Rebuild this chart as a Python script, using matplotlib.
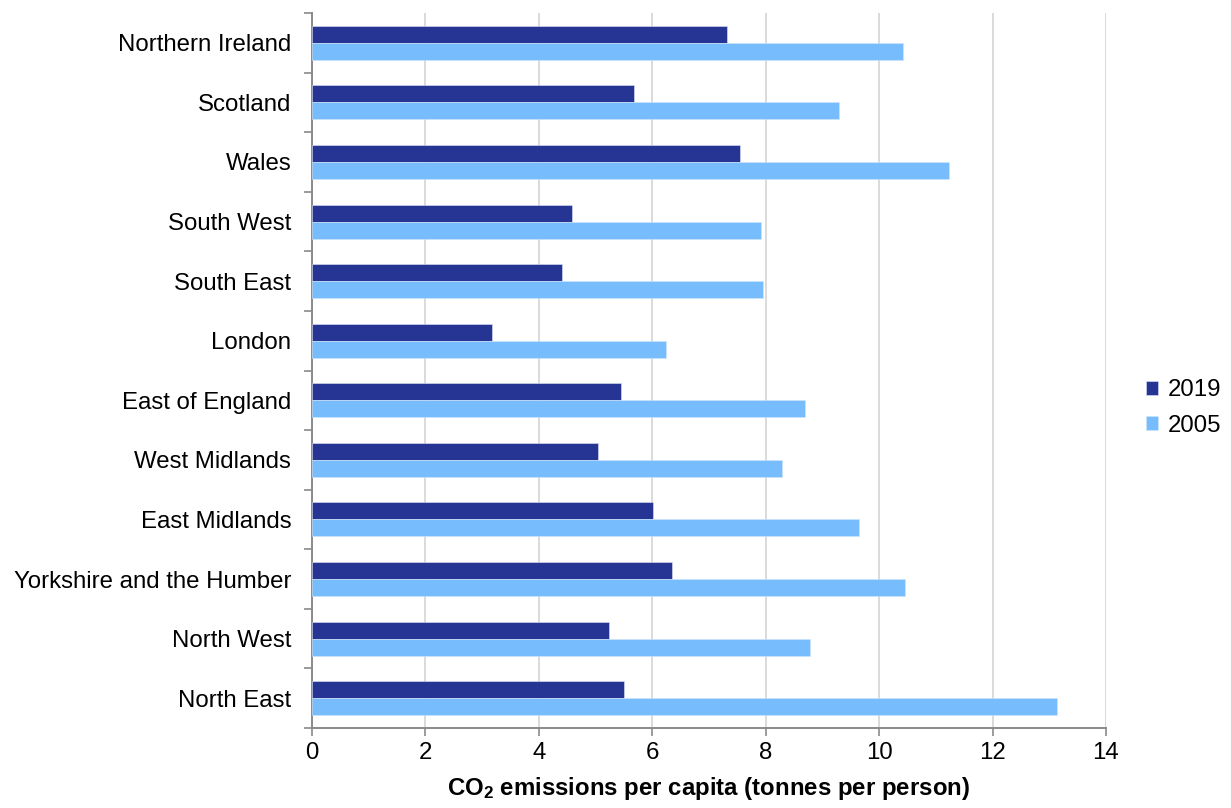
import numpy as np
import matplotlib
matplotlib.use("Agg")
import matplotlib.pyplot as plt
from matplotlib.ticker import FixedLocator

plt.rcParams['font.family'] = ['Liberation Sans', 'DejaVu Sans']
plt.rcParams['mathtext.fontset'] = 'custom'
plt.rcParams['mathtext.rm'] = 'Liberation Sans'
plt.rcParams['mathtext.bf'] = 'Liberation Sans:bold'

# regions, top to bottom
regions = ['Northern Ireland', 'Scotland', 'Wales', 'South West', 'South East',
           'London', 'East of England', 'West Midlands', 'East Midlands',
           'Yorkshire and the Humber', 'North West', 'North East']
co2_2019 = [7.32, 5.68, 7.54, 4.59, 4.40, 3.17, 5.44, 5.05, 6.01, 6.35, 5.23, 5.51]
co2_2005 = [10.42, 9.30, 11.23, 7.91, 7.95, 6.24, 8.70, 8.28, 9.64, 10.46, 8.78, 13.13]
xticks = [0, 2, 4, 6, 8, 10, 12, 14]

dark = '#263593'
light = '#77bcfc'
fs = 17.3

fig = plt.figure(figsize=(12.31, 8.08), dpi=100)
ax = fig.add_axes([312 / 1231, 1 - 728 / 808, (1106 - 312) / 1231, (728 - 13) / 808])

n = len(regions)
y = np.arange(n)[::-1]
h = 0.285
ax.barh(y + h / 2, co2_2019, height=h, color=dark, edgecolor='#dfe3f2', linewidth=0.4,
        label='2019', zorder=3)
ax.barh(y - h / 2, co2_2005, height=h, color=light, edgecolor='#cfe6fd', linewidth=0.4,
        label='2005', zorder=3)

ax.set_xlim(0, 14)
ax.set_ylim(-0.5, n - 0.5)
ax.set_xticks(xticks)
ax.set_xticklabels([str(t) for t in xticks])
ax.set_yticks(y)
ax.set_yticklabels(regions)
ax.yaxis.set_minor_locator(FixedLocator(np.arange(-0.5, n, 1)))

ax.tick_params(axis='y', which='major', length=0, pad=15, labelsize=fs)
ax.tick_params(axis='y', which='minor', length=6, width=1.2, color='#8a8a8a', direction='out')
ax.tick_params(axis='x', which='major', length=6, width=1.2, color='#8a8a8a', direction='out',
               labelsize=fs, pad=4)

ax.grid(axis='x', color='#d4d4d4', linewidth=1.2, zorder=0)
for s in ['top', 'right']:
    ax.spines[s].set_visible(False)
for s in ['left', 'bottom']:
    ax.spines[s].set_color('#8a8a8a')
    ax.spines[s].set_linewidth(1.4)

ax.set_xlabel(r'$\mathbf{CO_2}$ emissions per capita (tonnes per person)',
              fontsize=fs, fontweight='bold', labelpad=8)

fig.legend(loc='center left', bbox_to_anchor=(1146 / 1231, 1 - 408 / 808), frameon=False,
           fontsize=fs, handlelength=0.5, handleheight=0.5, handletextpad=0.4,
           labelspacing=0.55, borderpad=0, borderaxespad=0)

fig.savefig('out.png', dpi=100, facecolor='white')
